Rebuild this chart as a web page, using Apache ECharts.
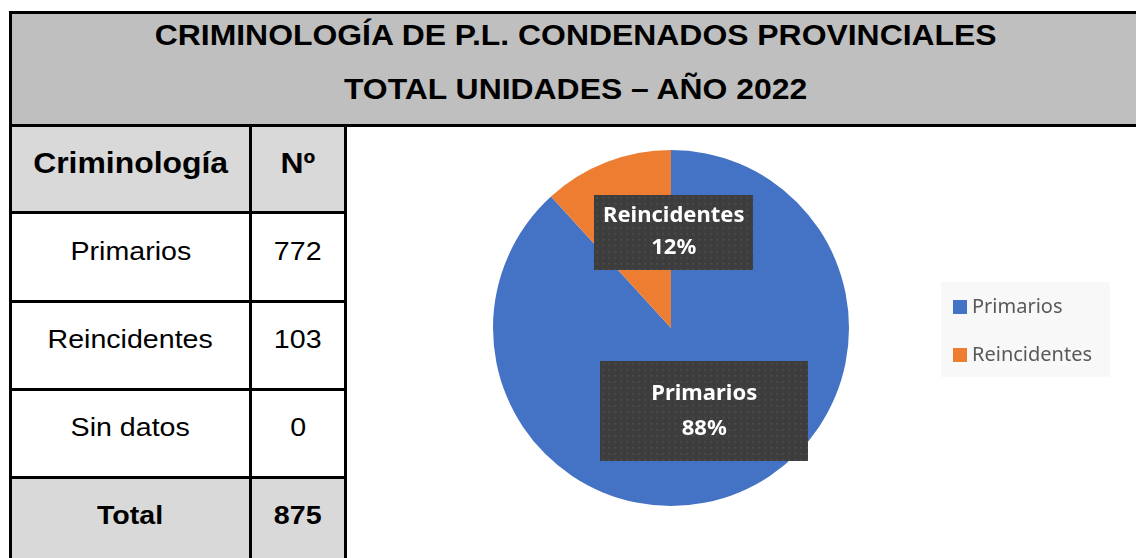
<!DOCTYPE html>
<html>
<head>
<meta charset="utf-8">
<script src="https://cdn.jsdelivr.net/npm/echarts@6/dist/echarts.min.js"></script>
<style>
  html, body { margin: 0; padding: 0; background: #fff; }
  #page { position: relative; width: 1136px; height: 558px; overflow: hidden; font-family: "Liberation Sans", Arial, sans-serif; color: #000; }
  .box { position: absolute; }
  .line { position: absolute; background: #000; }
  .cell { position: absolute; display: flex; align-items: center; justify-content: center; box-sizing: border-box; padding-bottom: 12px; }
  .cell span, .tline span { display: inline-block; transform: scaleX(1.1); white-space: nowrap; }
  .tline { position: absolute; left: 9px; width: 1134px; height: 40px; line-height: 40px; text-align: center; font-weight: bold; font-size: 29px; }
  #chart { position: absolute; left: 0; top: 0; width: 1136px; height: 558px; }
</style>
</head>
<body>
<div id="page">
  <div id="chart"></div>
</div>
<script>
// data
const titleLines = ['CRIMINOLOGÍA DE P.L. CONDENADOS PROVINCIALES', 'TOTAL UNIDADES – AÑO 2022'];
const headers = ['Criminología', 'Nº'];
const categories = ['Primarios', 'Reincidentes', 'Sin datos'];
const counts = [772, 103, 0];
const totalLabel = 'Total';
const sliceColors = ['#4472c4', '#ed7d31'];

// table layout
const page = document.getElementById('page');
const rowLines = [124, 211, 300, 388, 476];
const colX = [12, 252];
const colW = [237, 92];

function addBox(cls, x, y, w, h, bg) {
  const d = document.createElement('div');
  d.className = cls;
  d.style.left = x + 'px'; d.style.top = y + 'px';
  d.style.width = w + 'px'; d.style.height = h + 'px';
  if (bg) d.style.background = bg;
  page.insertBefore(d, document.getElementById('chart'));
  return d;
}

// title band
addBox('box', 9, 11, 1127, 116, '#bfbfbf');
titleLines.forEach((t, i) => {
  const d = addBox('tline', 9, [14.5, 69][i], 1134, 40);
  d.innerHTML = '<span></span>';
  d.firstChild.textContent = t;
});

// table rows
const rows = [headers].concat(categories.map((c, i) => [c, String(counts[i])]));
rows.push([totalLabel, String(counts.reduce((a, b) => a + b, 0))]);
rows.forEach((r, i) => {
  const y0 = rowLines[i] + 3;
  const y1 = i + 1 < rowLines.length ? rowLines[i + 1] : 558;
  const last = i === rows.length - 1;
  const shaded = i === 0 || last;
  r.forEach((txt, j) => {
    const c = addBox('cell', colX[j], y0, colW[j], y1 - y0, shaded ? '#d9d9d9' : '#fff');
    if (last) c.style.paddingBottom = '7px';
    c.innerHTML = '<span></span>';
    c.firstChild.textContent = txt;
    const s = c.firstChild.style;
    if (i === 0) { s.fontWeight = 'bold'; s.fontSize = '29px'; }
    else if (last) { s.fontWeight = 'bold'; s.fontSize = '26px'; }
    else { s.fontSize = '26px'; }
  });
});

// rules
addBox('line', 9, 11, 1127, 3);
addBox('line', 9, 124, 1127, 3);
rowLines.slice(1).forEach(y => addBox('line', 9, y, 338, 3));
addBox('line', 9, 11, 3, 547);
addBox('line', 249, 124, 3, 434);
addBox('line', 344, 124, 3, 434);

// dotted label background
function dots(w, h) {
  const cv = document.createElement('canvas');
  cv.width = w; cv.height = h;
  const ctx = cv.getContext('2d');
  ctx.fillStyle = '#3d3d3d';
  ctx.fillRect(0, 0, w, h);
  ctx.fillStyle = '#4b4b4b';
  for (let y = 2; y < h; y += 6) {
    for (let x = 2; x < w; x += 6) ctx.fillRect(x, y, 2, 2);
  }
  return cv;
}

const labelBoxes = [
  { width: 208, height: 100, lineHeight: 35, padding: [21, 0, 9, 0] },
  { width: 159, height: 75, lineHeight: 32, padding: [11, 0, 0, 0] }
];

const pieData = categories
  .map((name, i) => ({ name, value: counts[i] }))
  .filter(d => d.value > 0)
  .map((d, i) => ({
    name: d.name,
    value: d.value,
    itemStyle: { color: sliceColors[i] },
    label: {
      width: labelBoxes[i].width,
      lineHeight: labelBoxes[i].lineHeight,
      padding: labelBoxes[i].padding,
      backgroundColor: { image: dots(labelBoxes[i].width, labelBoxes[i].height) }
    }
  }));

const chart = echarts.init(document.getElementById('chart'));
chart.setOption({
  animation: false,
  legend: {
    orient: 'vertical',
    left: 941,
    top: 282,
    data: pieData.map(d => d.name),
    icon: 'rect',
    itemWidth: 14,
    itemHeight: 14,
    itemGap: 28,
    padding: [15, 18, 12, 12],
    backgroundColor: '#f8f8f8',
    textStyle: { fontFamily: 'Noto Sans', fontSize: 20, color: '#595959', lineHeight: 20 }
  },
  series: [{
    type: 'pie',
    center: [671, 328],
    radius: 178,
    startAngle: 90,
    clockwise: true,
    percentPrecision: 0,
    avoidLabelOverlap: false,
    data: pieData,
    itemStyle: { borderWidth: 0 },
    label: {
      show: true,
      position: 'inside',
      formatter: '{b}\n{d}%',
      color: '#fff',
      fontFamily: 'Noto Sans',
      fontWeight: 'bold',
      fontSize: 22,
      align: 'center',
      shadowColor: 'rgba(0,0,0,0.45)',
      shadowBlur: 6,
      shadowOffsetX: 3,
      shadowOffsetY: 3
    },
    labelLine: { show: false },
    labelLayout: p => (p.dataIndex === 1 ? { dx: 36, dy: -10 } : { dy: -3 }),
    emphasis: { disabled: true }
  }]
});
</script>
</body>
</html>
